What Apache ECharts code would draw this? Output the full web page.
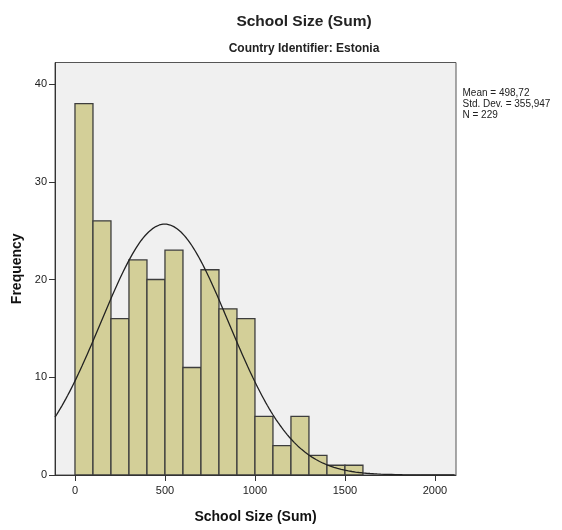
<!DOCTYPE html>
<html>
<head>
<meta charset="utf-8">
<script src="https://cdn.jsdelivr.net/npm/echarts@6/dist/echarts.min.js"></script>
<style>html,body{margin:0;padding:0;background:#fff}#c{width:562px;height:530px}</style>
</head>
<body>
<div id="c"></div>
<script>
const binStarts = [0,100,200,300,400,500,600,700,800,900,1000,1100,1200,1300,1400,1500];
const binWidth = 100;
const frequencies = [38,26,16,22,20,23,11,21,17,16,6,3,6,2,1,1];
const xTicks = [0,500,1000,1500,2000];
const yTicks = [0,10,20,30,40];
const statMean = 498.72;
const statSd = 355.947;
const statN = 229;
const xMin = -111, xMax = 2117, yMax = 42.2;

const barData = binStarts.map((s,i)=>[s, s+binWidth, frequencies[i]]);
const curve = [];
for (let x = xMin; x <= xMax; x += 10) {
  const z = (x - statMean) / statSd;
  curve.push([x, statN * binWidth / (statSd * Math.sqrt(2*Math.PI)) * Math.exp(-0.5*z*z)]);
}

const chart = echarts.init(document.getElementById('c'));
const sans = 'Liberation Sans, Arial, sans-serif';
chart.setOption({
  animation:false,
  title:[
    {text:'School Size (Sum)', left:299, top:9, textAlign:'center',
     textStyle:{fontFamily:sans, fontSize:15.5, fontWeight:'bold', color:'#222'}},
    {text:'Country Identifier: Estonia', left:299, top:38, textAlign:'center',
     textStyle:{fontFamily:sans, fontSize:12, fontWeight:'bold', color:'#222'}},
    {text:'Mean = 498,72\nStd. Dev. = 355,947\nN = 229', left:457.5, top:83,
     textStyle:{fontFamily:sans, fontSize:10, fontWeight:'normal', color:'#222', lineHeight:11}}
  ],
  grid:{left:55, right:106, top:62.5, bottom:55, show:true, backgroundColor:'#f0f0f0', borderColor:'#555', borderWidth:1},
  xAxis:{type:'value', min:xMin, max:xMax,
    name:'School Size (Sum)', nameLocation:'middle', nameGap:35,
    nameTextStyle:{fontFamily:sans, fontSize:14, fontWeight:'bold', color:'#111'},
    axisLine:{show:true, onZero:false, lineStyle:{color:'#333', width:1}},
    axisTick:{show:true, inside:false, length:6, customValues:xTicks, lineStyle:{color:'#333'}},
    axisLabel:{customValues:xTicks, formatter:function(v){return String(v);}, fontFamily:sans, fontSize:11, color:'#222', margin:10},
    splitLine:{show:false}},
  yAxis:{type:'value', min:0, max:yMax,
    name:'Frequency', nameLocation:'middle', nameGap:29, nameRotate:90,
    nameTextStyle:{fontFamily:sans, fontSize:14, fontWeight:'bold', color:'#111'},
    axisLine:{show:true, onZero:false, lineStyle:{color:'#333', width:1}},
    axisTick:{show:true, inside:false, length:6, customValues:yTicks, lineStyle:{color:'#333'}},
    axisLabel:{customValues:yTicks, formatter:function(v){return String(v);}, fontFamily:sans, fontSize:11, color:'#222', margin:8},
    splitLine:{show:false}},
  series:[
    {type:'custom', data:barData, clip:true,
     renderItem:function(params, api){
       const p0 = api.coord([api.value(0), api.value(2)]);
       const p1 = api.coord([api.value(1), 0]);
       return {type:'rect', shape:{x:p0[0], y:p0[1], width:p1[0]-p0[0], height:p1[1]-p0[1]},
         style:{fill:'#d3cf98', stroke:'#3d3d3d', lineWidth:1.3}};
     }},
    {type:'line', data:curve, showSymbol:false, smooth:false, clip:true,
     lineStyle:{color:'#222', width:1.3}}
  ]
});
</script>
</body>
</html>
